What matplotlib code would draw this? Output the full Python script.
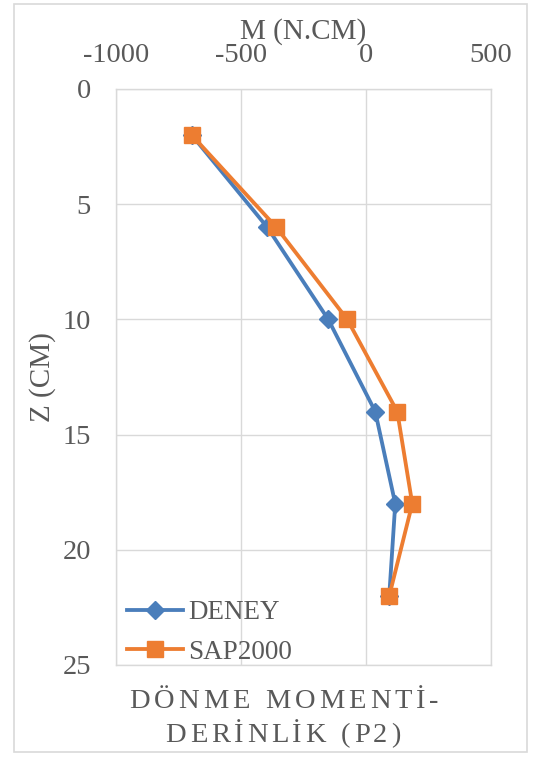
import matplotlib
matplotlib.use("Agg")
import matplotlib.pyplot as plt
from matplotlib.patches import Rectangle

# data
z = [2, 6, 10, 14, 18, 22]
deney = [-697, -395, -151, 37, 117, 93]
sap2000 = [-697, -359, -75, 125, 185, 93]

x_ticks = [-1000, -500, 0, 500]
y_ticks = [0, 5, 10, 15, 20, 25]

W, H = 539, 758
gray_txt = "#595959"
grid_c = "#d9d9d9"
plt.rcParams["font.family"] = ["Liberation Serif", "DejaVu Serif"]
plt.rcParams["axes.unicode_minus"] = False

fig = plt.figure(figsize=(W / 100, H / 100), dpi=100)
ax = fig.add_axes([116 / W, 1 - 665 / H, (491 - 116) / W, (665 - 89) / H])

ax.plot(deney, z, color="#4A7EBB", lw=2.75, marker="D", ms=9, label="DENEY", zorder=3)
ax.plot(sap2000, z, color="#ED7D31", lw=2.75, marker="s", ms=12, label="SAP2000", zorder=4)

ax.set_xlim(-1000, 500)
ax.set_ylim(25, 0)
ax.set_xticks(x_ticks)
ax.set_yticks(y_ticks)
ax.xaxis.tick_top()
ax.xaxis.set_label_position("top")
ax.tick_params(length=0, labelsize=20.5, labelcolor=gray_txt)
ax.tick_params(axis="x", pad=15)
ax.tick_params(axis="y", pad=18)
ax.grid(True, color=grid_c, lw=1.0)
for s in ax.spines.values():
    s.set_color(grid_c)
    s.set_linewidth(1.0)

ax.set_xlabel("M (N.CM)", fontsize=21, color=gray_txt, labelpad=3)
ax.set_ylabel("Z (CM)", fontsize=21, color=gray_txt, labelpad=5)

ax.legend(loc="upper left", bbox_to_anchor=(127 / W, 1 - 600 / H),
          bbox_transform=fig.transFigure, frameon=False, fontsize=19.5,
          handlelength=2.05, handletextpad=0.2, borderpad=0, borderaxespad=0,
          labelspacing=0.55, labelcolor=gray_txt)


def spaced_text(s, xc, y_base, size, gap):
    # draw one char at a time to get the wide letter spacing
    r = fig.canvas.get_renderer()
    widths = []
    for ch in s:
        if ch == " ":
            widths.append(size * 0.25 * fig.dpi / 72)
            continue
        t = fig.text(0, 0, ch, fontsize=size)
        widths.append(t.get_window_extent(r).width)
        t.remove()
    total = sum(widths) + gap * (len(s) - 1)
    x = xc - total / 2
    for ch, w in zip(s, widths):
        fig.text(x / W, 1 - y_base / H, ch, fontsize=size, color=gray_txt,
                 va="baseline", ha="left")
        x += w + gap


spaced_text("DÖNME MOMENTİ-", 284, 708, 20.5, 4.0)
spaced_text("DERİNLİK (P2)", 283, 742, 20.5, 3.7)

fig.patches.append(Rectangle((14 / W, 1 - 752 / H), (527 - 14) / W, (752 - 4) / H,
                             transform=fig.transFigure, fill=False,
                             edgecolor=grid_c, lw=1.2))

fig.savefig("out.png", dpi=100)
